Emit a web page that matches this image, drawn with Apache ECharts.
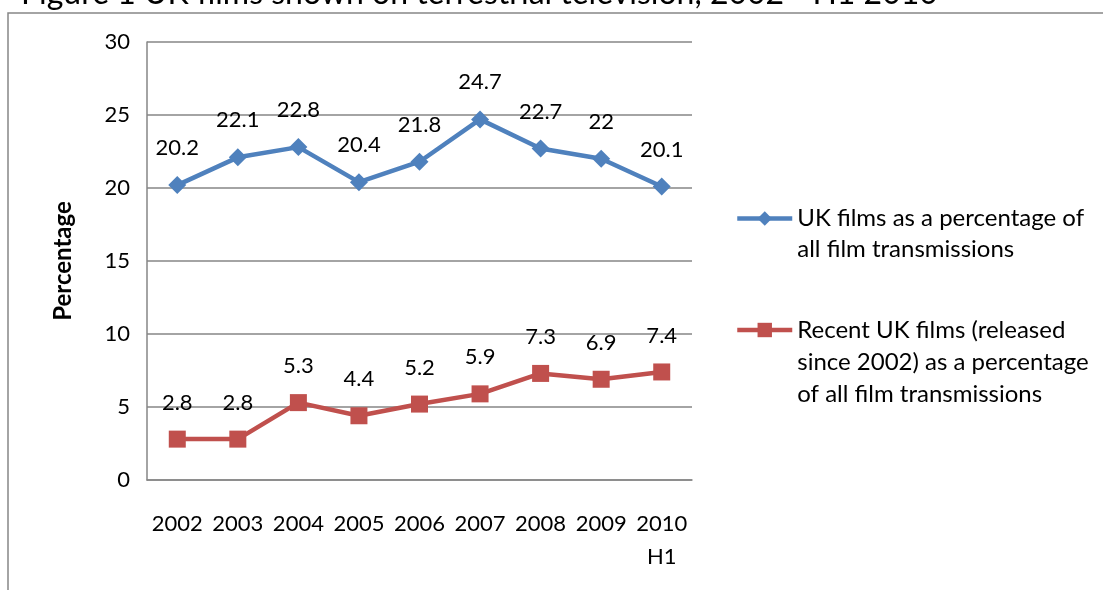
<!DOCTYPE html>
<html><head><meta charset="utf-8">
<script src="https://cdn.jsdelivr.net/npm/echarts@6/dist/echarts.min.js"></script>
<style>html,body{margin:0;padding:0;background:#fff}#c{width:1103px;height:590px}</style>
</head><body><div id="c"></div>
<script>
const categories = ['2002','2003','2004','2005','2006','2007','2008','2009','2010\nH1'];
const ukFilms = [20.2, 22.1, 22.8, 20.4, 21.8, 24.7, 22.7, 22, 20.1];
const recentUkFilms = [2.8, 2.8, 5.3, 4.4, 5.2, 5.9, 7.3, 6.9, 7.4];
const seriesNames = ['UK films as a percentage of\nall film transmissions',
  'Recent UK films (released\nsince 2002) as a percentage\nof all film transmissions'];
const titleText = 'Figure 1 UK films shown on terrestrial television, 2002 - H1 2010';
const FONT = 'Lato';
const chart = echarts.init(document.getElementById('c'));
const lbl = {show:true, position:'top', distance:17, fontSize:22, color:'#000', fontFamily:FONT};
// put (lines-1) blank lines above so the icon lines up with the first text line
const topAlign = name => '\n'.repeat(name.split('\n').length - 1) + name;
const legendBase = {orient:'vertical', left:730, itemWidth:55, itemHeight:18,
  lineStyle:{width:4.5}, formatter:topAlign};
chart.setOption({
  animation:false,
  textStyle:{fontFamily:FONT},
  title:{text:titleText, left:16, top:-27, textStyle:{fontSize:32, fontWeight:'normal', color:'#000', fontFamily:FONT}},
  graphic:[{type:'rect', shape:{x:8, y:13, width:1200, height:700}, style:{fill:'none', stroke:'#868686', lineWidth:1.5}, silent:true}],
  grid:{left:147, right:411, top:42, bottom:110},
  legend:[
    Object.assign({}, legendBase, {top:167, data:[seriesNames[0]],
      textStyle:{fontSize:24, lineHeight:31, color:'#000', fontFamily:FONT}}),
    Object.assign({}, legendBase, {top:245, data:[seriesNames[1]],
      textStyle:{fontSize:24, lineHeight:32, color:'#000', fontFamily:FONT}})
  ],
  xAxis:{type:'category', data:categories, boundaryGap:true,
    axisLine:{lineStyle:{color:'#868686', width:1.5}}, axisTick:{show:false},
    axisLabel:{interval:0, fontSize:22, color:'#000', margin:27, lineHeight:33, fontFamily:FONT}},
  yAxis:{type:'value', min:0, max:30, interval:5, name:'Percentage', nameLocation:'middle', nameGap:72,
    nameTextStyle:{fontSize:24, fontWeight:'bold', color:'#000', fontFamily:FONT},
    axisLine:{show:true, lineStyle:{color:'#868686', width:1.5}}, axisTick:{show:false},
    splitLine:{lineStyle:{color:'#868686', width:1.5}},
    axisLabel:{fontSize:22, color:'#000', margin:17, fontFamily:FONT}},
  series:[
    {name:seriesNames[0], type:'line', data:ukFilms, symbol:'diamond', symbolSize:18,
     itemStyle:{color:'#4F81BD'}, lineStyle:{color:'#4F81BD', width:4.5}, label:lbl},
    {name:seriesNames[1], type:'line', data:recentUkFilms, symbol:'rect', symbolSize:17,
     itemStyle:{color:'#C0504D'}, lineStyle:{color:'#C0504D', width:4.5}, label:lbl}
  ]
});
</script></body></html>
